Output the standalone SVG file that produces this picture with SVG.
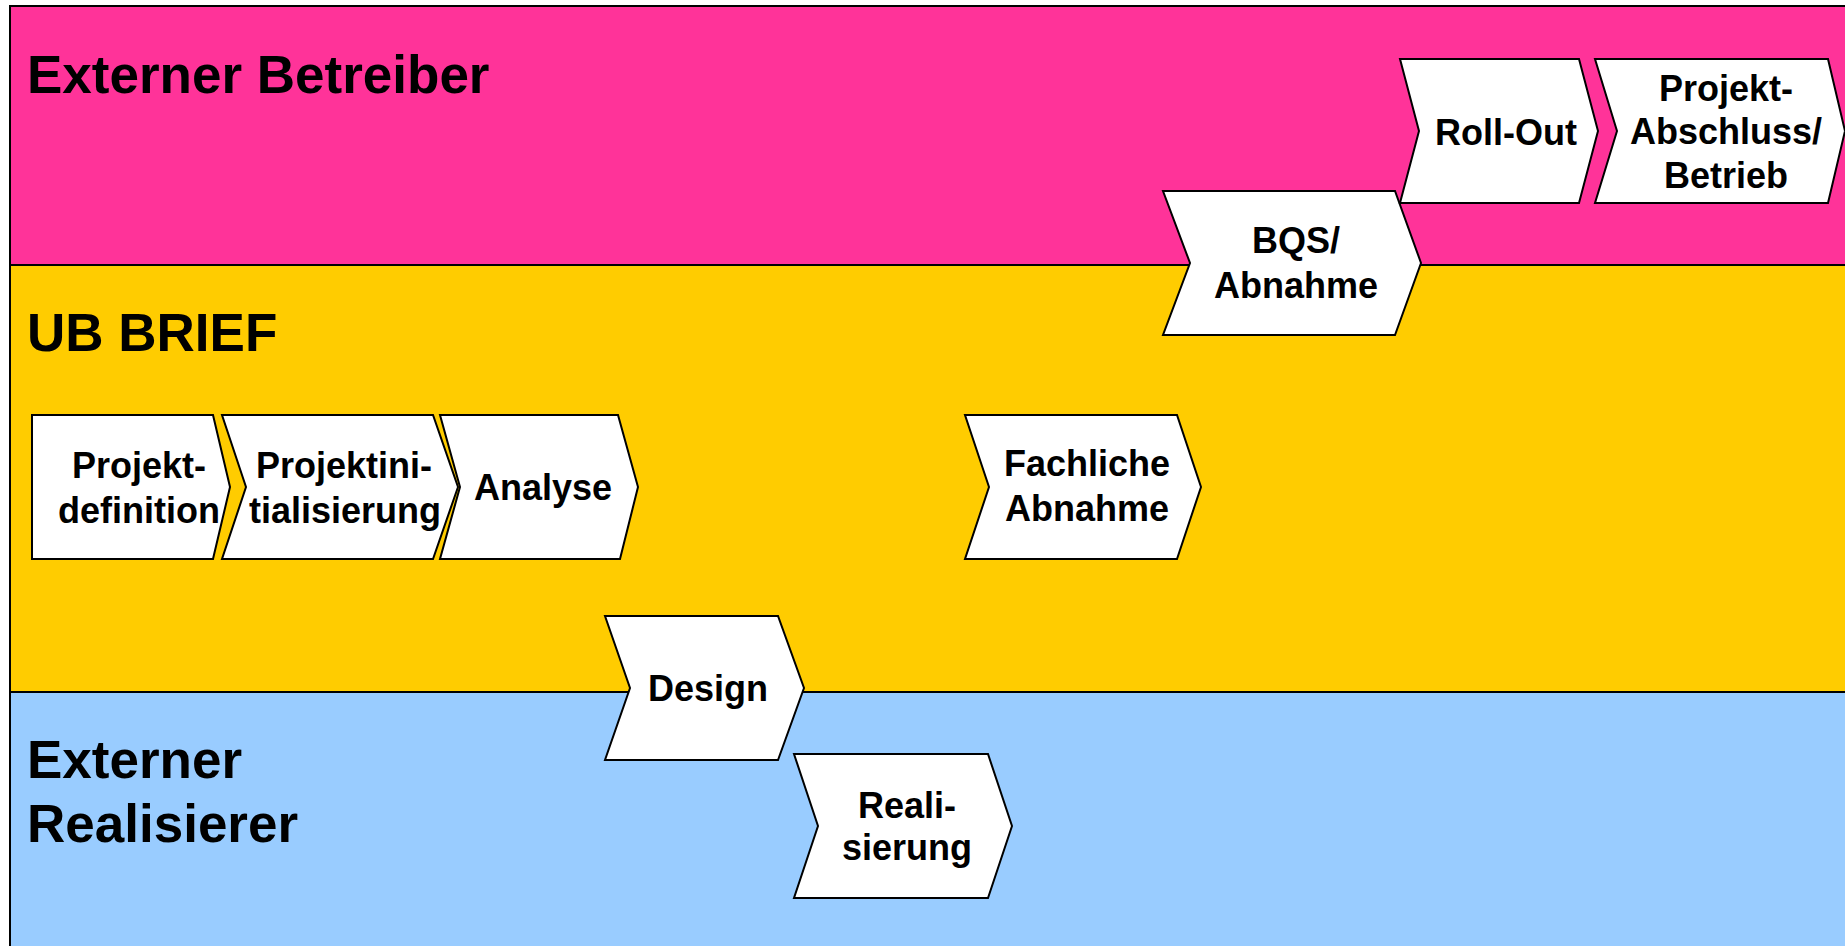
<svg xmlns="http://www.w3.org/2000/svg" width="1845" height="946" viewBox="0 0 1845 946">
<style>
.lane{stroke:#000;stroke-width:2}
.title{font-family:"Liberation Sans",Arial,sans-serif;font-weight:bold;font-size:53px;fill:#000}
.chev{fill:#fff;stroke:#000;stroke-width:2;stroke-linejoin:miter}
.lbl{font-family:"Liberation Sans",Arial,sans-serif;font-weight:bold;font-size:36px;fill:#000;text-anchor:middle}
</style>
<rect width="1845" height="946" fill="#fff"/>
<g id="lane-externer-betreiber">
<rect class="lane" x="10" y="6" width="1850" height="259" fill="#FF3399"/>
<text class="title" x="27" y="93">Externer Betreiber</text>
</g>
<g id="lane-ub-brief">
<rect class="lane" x="10" y="265" width="1850" height="427" fill="#FFCC00"/>
<text class="title" x="27" y="351">UB BRIEF</text>
</g>
<g id="lane-externer-realisierer">
<rect class="lane" x="10" y="692" width="1850" height="270" fill="#99CCFF"/>
<text class="title" x="27" y="778">Externer</text>
<text class="title" x="27" y="842">Realisierer</text>
</g>
<g id="connectors"/>
<g id="node-projektdefinition">
<path class="chev" d="M32,415 L213,415 L230,487 L213,559 L32,559 Z"/>
<text class="lbl" x="139" y="478">Projekt-</text>
<text class="lbl" x="139" y="523">definition</text>
</g>
<g id="node-projektinitialisierung">
<path class="chev" d="M222,415 L433,415 L458,487 L433,559 L222,559 L246,487 Z"/>
<text class="lbl" x="344" y="478">Projektini-</text>
<text class="lbl" x="345" y="523">tialisierung</text>
</g>
<g id="node-analyse">
<path class="chev" d="M440,415 L618,415 L638,487 L620,559 L440,559 L460,487 Z"/>
<text class="lbl" x="543" y="500">Analyse</text>
</g>
<g id="node-fachliche-abnahme">
<path class="chev" d="M965,415 L1177,415 L1201,487 L1177,559 L965,559 L989,487 Z"/>
<text class="lbl" x="1087" y="476">Fachliche</text>
<text class="lbl" x="1087" y="521">Abnahme</text>
</g>
<g id="node-design">
<path class="chev" d="M605,616 L778,616 L804,688 L778,760 L605,760 L630,688 Z"/>
<text class="lbl" x="708" y="701">Design</text>
</g>
<g id="node-realisierung">
<path class="chev" d="M794,754 L988,754 L1012,826 L988,898 L794,898 L818,826 Z"/>
<text class="lbl" x="907" y="818">Reali-</text>
<text class="lbl" x="907" y="860">sierung</text>
</g>
<g id="node-bqs-abnahme">
<path class="chev" d="M1163,191 L1395,191 L1421,263 L1395,335 L1163,335 L1190,263 Z"/>
<text class="lbl" x="1296" y="253">BQS/</text>
<text class="lbl" x="1296" y="298">Abnahme</text>
</g>
<g id="node-roll-out">
<path class="chev" d="M1400,59 L1579,59 L1598,131 L1579,203 L1400,203 L1419,131 Z"/>
<text class="lbl" x="1506" y="145">Roll-Out</text>
</g>
<g id="node-projekt-abschluss">
<path class="chev" d="M1595,59 L1828,59 L1845,131 L1828,203 L1595,203 L1617,131 Z"/>
<text class="lbl" x="1726" y="101">Projekt-</text>
<text class="lbl" x="1726" y="144">Abschluss/</text>
<text class="lbl" x="1726" y="188">Betrieb</text>
</g>
</svg>
